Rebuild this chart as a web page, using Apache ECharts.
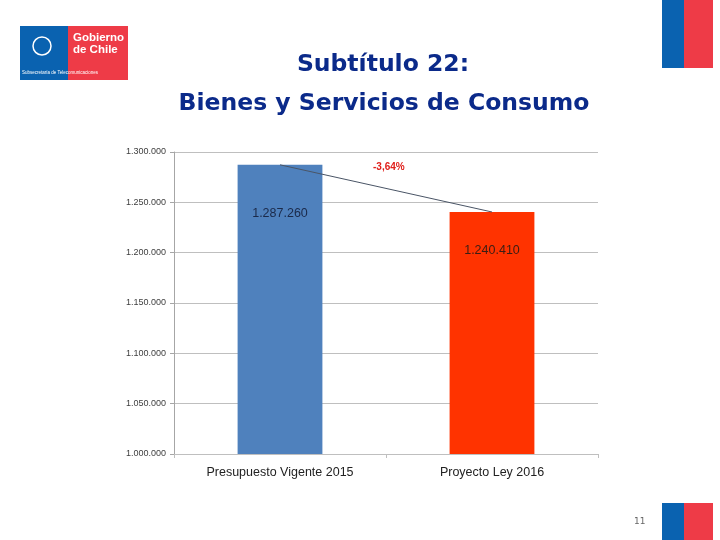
<!DOCTYPE html>
<html><head><meta charset="utf-8">
<script src="https://cdn.jsdelivr.net/npm/echarts@6/dist/echarts.min.js"></script>
<style>html,body{margin:0;padding:0;background:#fff}#c{width:720px;height:540px}</style>
</head><body><div id="c"></div>
<script>
const categories = ['Presupuesto Vigente 2015', 'Proyecto Ley 2016'];
const values = [1287260, 1240410];
const barColors = ['#4F81BD', '#FF3300'];
const labelColors = ['#1B2A4A', '#3A1E14'];
const labelDistances = [42, 32];
const changeLabel = '-3,64%';
const titleLines = ['Subtítulo 22:', 'Bienes y Servicios de Consumo'];
const pageNumber = '11';

function fmt(v){ return String(Math.round(v)).replace(/\B(?=(\d{3})+(?!\d))/g, '.'); }

const chart = echarts.init(document.getElementById('c'), null, {renderer:'canvas'});
chart.setOption({
  animation:false,
  backgroundColor:'#fff',
  title:[
    {text:titleLines[0], left:378, top:48, textAlign:'center', textStyle:{fontFamily:'DejaVu Sans', fontWeight:'bold', fontSize:23.5, color:'#0B2A8A'}},
    {text:titleLines[1], left:379, top:87, textAlign:'center', textStyle:{fontFamily:'DejaVu Sans', fontWeight:'bold', fontSize:23.5, color:'#0B2A8A'}}
  ],
  grid:{left:174, right:122, top:152, bottom:86, containLabel:false},
  xAxis:{type:'category', data:categories,
    axisLine:{lineStyle:{color:'#BFBFBF'}},
    axisTick:{show:true, alignWithLabel:false, length:4, lineStyle:{color:'#BFBFBF'}},
    axisLabel:{fontFamily:'Liberation Sans', fontSize:12.5, color:'#222', margin:12}
  },
  yAxis:{type:'value', min:1000000, max:1300000, interval:50000,
    axisLine:{show:true, lineStyle:{color:'#A6A6A6'}},
    axisTick:{show:true, length:4, lineStyle:{color:'#A6A6A6'}},
    splitLine:{lineStyle:{color:'#BFBFBF'}},
    axisLabel:{formatter:fmt, fontFamily:'Liberation Sans', fontSize:9, color:'#404040', margin:8}
  },
  series:[
    {type:'bar', barWidth:'40%',
     data:values.map((v,i)=>({value:v, itemStyle:{color:barColors[i]},
       label:{show:true, position:'insideTop', distance:labelDistances[i], color:labelColors[i]}})),
     label:{show:true, position:'insideTop', formatter:p=>fmt(p.value), fontFamily:'Liberation Sans', fontSize:12.5}},
    {type:'line', data:values, symbol:'none', lineStyle:{color:'#4A5566', width:1}, z:5}
  ],
  graphic:[
    {type:'text', left:373, top:162, style:{text:changeLabel, fill:'#E0201B', font:'bold 10px "Liberation Sans"'}},
    {type:'rect', shape:{x:20,y:26,width:48,height:54}, style:{fill:'#0A62B0'}},
    {type:'rect', shape:{x:68,y:26,width:60,height:54}, style:{fill:'#EE3B47'}},
    {type:'circle', shape:{cx:42,cy:46,r:9}, style:{fill:'none', stroke:'#fff', lineWidth:1.5}},
    {type:'text', left:73, top:32, style:{text:'Gobierno\nde Chile', fill:'#fff', font:'bold 11.5px "Liberation Sans"', lineHeight:12}},
    {type:'text', left:22, top:70, style:{text:'Subsecretaría de Telecomunicaciones', fill:'#fff', font:'4.5px "Liberation Sans"'}},
    {type:'rect', shape:{x:662,y:0,width:22,height:68}, style:{fill:'#0A62B0'}},
    {type:'rect', shape:{x:684,y:0,width:29,height:68}, style:{fill:'#EE3B47'}},
    {type:'rect', shape:{x:662,y:503,width:22,height:37}, style:{fill:'#0A62B0'}},
    {type:'rect', shape:{x:684,y:503,width:29,height:37}, style:{fill:'#EE3B47'}},
    {type:'text', left:634, top:517, style:{text:pageNumber, fill:'#666', font:'9px "DejaVu Sans"'}}
  ]
});
</script></body></html>
